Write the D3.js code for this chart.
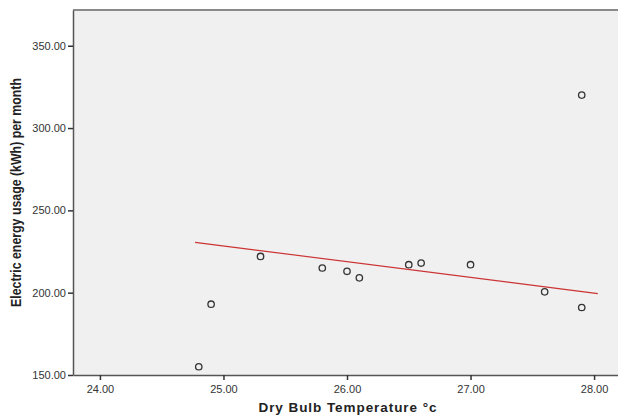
<!DOCTYPE html>
<html>
<head>
<meta charset="utf-8">
<script src="https://cdn.jsdelivr.net/npm/d3@7"></script>
<style>
  body { margin: 0; background: #fff; }
  svg { display: block; font-family: "Liberation Sans", Arial, sans-serif; }
</style>
</head>
<body>
<div id="chart"></div>
<script>
// values
var temperature = [24.8, 24.9, 25.3, 25.8, 26.0, 26.1, 26.5, 26.6, 27.0, 27.6, 27.9, 27.9];
var energy = [155, 193, 222, 215, 213, 209, 217, 218, 217, 200.5, 191, 320];
var fitX = [24.77, 28.03];
var fitY = [230.6, 199.4];
var xTicks = [24, 25, 26, 27, 28];
var yTicks = [150, 200, 250, 300, 350];

window.onload = (function () {
    var width = 618, height = 416;
    var margin = {top: 10, right: -4, bottom: 41, left: 73};
    var w = width - margin.left - margin.right;
    var h = height - margin.top - margin.bottom;

    var svg = d3.select('#chart').append('svg')
        .attr('width', width)
        .attr('height', height);

    var g = svg.append('g')
        .attr('transform', 'translate(' + margin.left + ',' + margin.top + ')');

    var x = d3.scaleLinear().domain([23.782, 28.226]).range([0, w]);
    var y = d3.scaleLinear().domain([150, 371.7]).range([h, 0]);

    // plot background
    g.append('rect')
        .attr('width', w)
        .attr('height', h)
        .attr('fill', '#f0f0f0');

    // top frame line
    g.append('line')
        .attr('x1', 0).attr('x2', w)
        .attr('y1', 0).attr('y2', 0)
        .attr('stroke', '#8a8a8a')
        .attr('stroke-width', 2);

    var xAxis = g.append('g')
        .attr('transform', 'translate(0,' + h + ')')
        .call(d3.axisBottom(x).tickValues(xTicks).tickFormat(d3.format('.2f'))
            .tickSize(5).tickSizeOuter(0));
    var yAxis = g.append('g')
        .call(d3.axisLeft(y).tickValues(yTicks).tickFormat(d3.format('.2f'))
            .tickSize(5).tickSizeOuter(0));

    [xAxis, yAxis].forEach(function (a) {
        a.select('.domain').attr('stroke', '#555').attr('stroke-width', 1.5);
        a.selectAll('.tick line').attr('stroke', '#333').attr('stroke-width', 1.5);
        a.selectAll('.tick text')
            .attr('fill', '#333')
            .style('font-size', '11px')
            .style('font-family', '"Liberation Sans", Arial, sans-serif');
    });
    xAxis.selectAll('.tick text').attr('dy', '0.9em');
    yAxis.selectAll('.tick text').attr('x', -7);

    // fit line
    var line = d3.line()
        .x(function (d) { return x(d[0]); })
        .y(function (d) { return y(d[1]); });
    g.append('path')
        .datum(fitX.map(function (v, i) { return [v, fitY[i]]; }))
        .attr('d', line)
        .attr('fill', 'none')
        .attr('stroke', '#cc3333')
        .attr('stroke-width', 1.2);

    // points
    g.selectAll('circle.pt')
        .data(temperature.map(function (v, i) { return [v, energy[i]]; }))
        .enter().append('circle')
        .attr('class', 'pt')
        .attr('cx', function (d) { return x(d[0]); })
        .attr('cy', function (d) { return y(d[1]); })
        .attr('r', 3.2)
        .attr('fill', 'none')
        .attr('stroke', '#333')
        .attr('stroke-width', 1.3);

    // axis titles
    svg.append('text')
        .attr('x', margin.left + w / 2)
        .attr('y', 412)
        .attr('text-anchor', 'middle')
        .style('font-size', '13.5px')
        .style('font-weight', 'bold')
        .attr('textLength', 178)
        .attr('lengthAdjust', 'spacing')
        .attr('fill', '#222')
        .text('Dry Bulb Temperature °c');

    svg.append('text')
        .attr('transform', 'translate(21,' + (margin.top + h / 2) + ') rotate(-90)')
        .attr('text-anchor', 'middle')
        .style('font-size', '14px')
        .style('font-weight', 'bold')
        .attr('textLength', 229)
        .attr('lengthAdjust', 'spacingAndGlyphs')
        .attr('fill', '#222')
        .text('Electric energy usage (kWh) per month');
}());
</script>
</body>
</html>
